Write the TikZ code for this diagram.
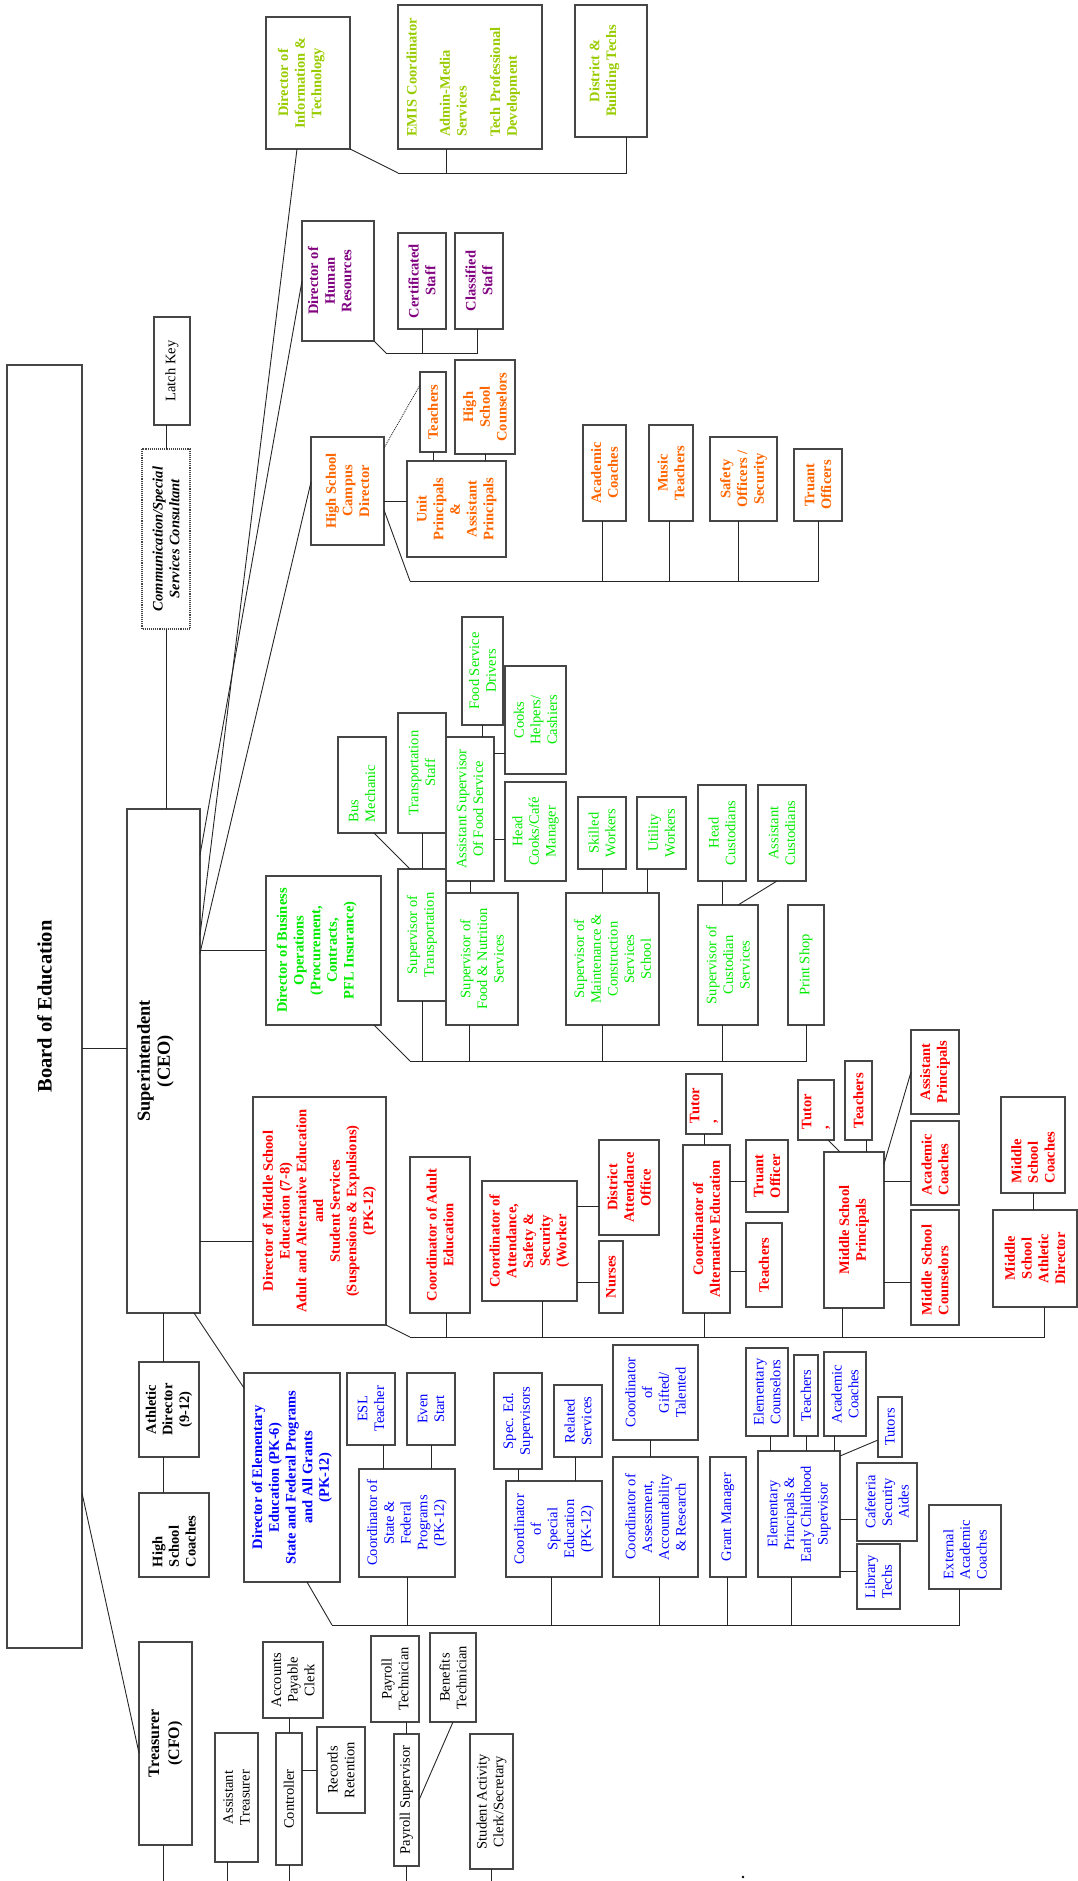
\documentclass[tikz,border=0pt]{standalone}
\usepackage{fontspec}
\setmainfont{Liberation Serif}
\usepackage{tikz}
\usetikzlibrary{calc,positioning}
\definecolor{techlime}{RGB}{153,204,0}
\definecolor{hrpurple}{RGB}{128,0,128}
\definecolor{hsorange}{RGB}{255,102,0}
\definecolor{opsgreen}{RGB}{0,235,0}
\definecolor{msred}{RGB}{255,0,0}
\definecolor{elemblue}{RGB}{0,0,255}
\definecolor{boxline}{RGB}{70,70,70}

\begin{document}
\begin{tikzpicture}[x=1pt, y=-1pt,
    box/.style={draw=boxline, line width=1.1pt, rotate=90, align=center,
        inner sep=0pt, outer sep=0pt, font=\fontsize{14.5}{16.7}\selectfont},
    wh/.style 2 args={minimum height=#1pt, minimum width=#2pt},
    bold/.style={font=\fontsize{14.5}{16.7}\selectfont\bfseries},
    lefttext/.style={align=left, text width=#1pt},
    techtext/.style={bold, text=techlime},
    hrtext/.style={bold, text=hrpurple},
    hstext/.style={bold, text=hsorange},
    opstext/.style={text=opsgreen},
    mstext/.style={bold, text=msred},
    elemtext/.style={text=elemblue},
    link/.style={draw=black!85, line width=0.9pt}
]
    \useasboundingbox (0,0) rectangle (1078,1881);

    % Board, superintendent, treasurer
    \node[box, wh={75}{1283}, font=\fontsize{20.5}{24}\selectfont\bfseries] (boe) at (44.5,1006.5) {Board of Education};
    \node[box, wh={73}{504}, font=\fontsize{18.4}{20}\selectfont\bfseries] (sup) at (163.5,1061) {Superintendent\\(CEO)\\~};
    \node[box, wh={53}{203}, font=\fontsize{16}{20}\selectfont\bfseries] (tre) at (165.5,1743.5) {Treasurer\\(CFO)};
    \node[box, wh={36}{108}] (latch) at (172,371) {Latch Key};
    \node[box, wh={48}{180}, densely dotted, font=\fontsize{14.5}{16.7}\selectfont\bfseries\itshape] (cons) at (166,539) {Communication/Special\\Services Consultant};
    \node[box, bold, wh={60}{95}] (ad) at (169,1409.5) {Athletic\\Director\\(9-12)};
    \node[box, bold, wh={70}{84}, lefttext=64] (hsc) at (174,1535) {High\\School\\Coaches};

    % Information technology
    \node[box, techtext, wh={84}{132}] (dit) at (308,83) {Director of\\Information \&\\Technology\\~};
    \node[box, techtext, wh={144}{144}, lefttext=120] (emis) at (470,77) {EMIS Coordinator\\~\\Admin-Media\\Services\\~\\Tech Professional\\Development\\~};
    \node[box, techtext, wh={72}{132}] (dbt) at (611,71) {District \&\\Building Techs\\~};

    % Human resources
    \node[box, hrtext, wh={72}{120}] (dhr) at (338,281) {Director of\\Human\\Resources\\~};
    \node[box, hrtext, wh={48}{96}] (cert) at (422,281) {Certificated\\Staff};
    \node[box, hrtext, wh={48}{96}] (clas) at (479,281) {Classified\\Staff};

    % High school campus
    \node[box, hstext, wh={73}{108}] (hscd) at (347.5,491) {High School\\Campus\\Director};
    \node[box, hstext, wh={26}{80}] (hst) at (433,412) {Teachers};
    \node[box, hstext, wh={60}{94}] (hsco) at (485,407) {High\\School\\Counselors};
    \node[box, hstext, wh={99}{96}] (unit) at (456.5,509) {Unit\\Principals\\\&\\Assistant\\Principals};
    \node[box, hstext, wh={43}{96}] (hsac) at (604.5,473) {Academic\\Coaches};
    \node[box, hstext, wh={44}{96}] (music) at (671,473) {Music\\Teachers};
    \node[box, hstext, wh={67}{84}] (safe) at (743.5,479) {Safety\\Officers /\\Security};
    \node[box, hstext, wh={48}{72}] (truo) at (818,485) {Truant\\Officers};

    % Business operations
    \node[box, opstext, bold, wh={115}{149}] (dbo) at (323.5,950.5) {Director of Business\\Operations\\(Procurement,\\Contracts,\\PFL Insurance)\\~};
    \node[box, opstext, wh={48}{96}, lefttext=74] (busm) at (362,785) {Bus\\Mechanic};
    \node[box, opstext, wh={48}{120}] (tstaff) at (422,773) {Transportation\\Staff};
    \node[box, opstext, wh={48}{144}] (asfs) at (470,809) {Assistant Supervisor\\Of Food Service};
    \node[box, opstext, wh={41}{108}] (fsd) at (482.5,671) {Food Service\\Drivers};
    \node[box, opstext, wh={61}{108}] (chc) at (535.5,720) {Cooks\\Helpers/\\Cashiers};
    \node[box, opstext, wh={61}{99}] (hcc) at (535.5,831.5) {Head\\Cooks/Café\\Manager};
    \node[box, opstext, wh={48}{72}] (skw) at (602,833) {Skilled\\Workers};
    \node[box, opstext, wh={49}{72}] (utw) at (661.5,833) {Utility\\Workers};
    \node[box, opstext, wh={48}{96}] (hcus) at (722,833) {Head\\Custodians};
    \node[box, opstext, wh={48}{96}] (acus) at (782,833) {Assistant\\Custodians};
    \node[box, opstext, wh={48}{132}] (stra) at (422,935) {Supervisor of\\Transportation};
    \node[box, opstext, wh={72}{132}] (sfns) at (482,959) {Supervisor of\\Food \& Nutrition\\Services};
    \node[box, opstext, wh={93}{132}] (smcs) at (612.5,959) {Supervisor of\\Maintenance \&\\Construction\\Services\\School};
    \node[box, opstext, wh={60}{120}] (scs) at (728,965) {Supervisor of\\Custodian\\Services};
    \node[box, opstext, wh={36}{120}] (print) at (806,965) {Print Shop};

    % Middle school and student services
    \node[box, mstext, wh={133}{228}] (dms) at (319.5,1211) {Director of Middle School\\Education (7-8)\\Adult and Alternative Education\\and\\Student Services\\(Suspensions \& Expulsions)\\(PK-12)};
    \node[box, mstext, wh={60}{156}] (cae) at (440,1235) {Coordinator of Adult\\Education};
    \node[box, mstext, wh={95}{120}] (cass) at (529.5,1241) {Coordinator of\\Attendance,\\Safety \&\\Security\\(Worker};
    \node[box, mstext, wh={60}{95}] (dao) at (629,1187.5) {District\\Attendance\\Office};
    \node[box, mstext, wh={24}{72}] (nurse) at (611,1277) {Nurses};
    \node[box, mstext, wh={47}{168}] (calt) at (706.5,1229) {Coordinator of\\Alternative Education};
    \node[box, mstext, wh={36}{60}, lefttext=38] (tut1) at (704,1104) {Tutor\\,};
    \node[box, mstext, wh={42}{72}] (trof) at (767,1176) {Truant\\Officer};
    \node[box, mstext, wh={36}{84}] (tch1) at (764,1265) {Teachers};
    \node[box, mstext, wh={60}{156}] (msp) at (854,1230) {Middle School\\Principals};
    \node[box, mstext, wh={36}{60}, lefttext=38] (tut2) at (816,1110) {Tutor\\,};
    \node[box, mstext, wh={27}{79}] (tch2) at (858.5,1100.5) {Teachers};
    \node[box, mstext, wh={48}{84}] (msap) at (935,1072) {Assistant\\Principals};
    \node[box, mstext, wh={48}{84}, lefttext=64] (msac) at (935,1163) {Academic\\Coaches};
    \node[box, mstext, wh={48}{115}, lefttext=95] (mscn) at (935,1267.5) {Middle School\\Counselors};
    \node[box, mstext, wh={64}{96}, lefttext=76] (mscc) at (1033,1145) {Middle\\School\\Coaches};
    \node[box, mstext, wh={84}{97}] (msad) at (1035,1258.5) {Middle\\School\\Athletic\\Director};

    % Elementary, state and federal programs
    \node[box, elemtext, bold, wh={96}{209}] (dee) at (292,1477.5) {Director of Elementary\\Education (PK-6)\\State and Federal Programs\\and All Grants\\(PK-12)};
    \node[box, elemtext, wh={48}{72}] (esl) at (371,1409) {ESL\\Teacher};
    \node[box, elemtext, wh={48}{72}] (even) at (431,1409) {Even\\Start};
    \node[box, elemtext, wh={96}{108}] (csfp) at (407,1523) {Coordinator of\\State \&\\Federal\\Programs\\(PK-12)};
    \node[box, elemtext, wh={48}{96}] (sped) at (518,1421) {Spec. Ed.\\Supervisors};
    \node[box, elemtext, wh={48}{72}] (rels) at (578,1421) {Related\\Services};
    \node[box, elemtext, wh={96}{96}] (cse) at (554,1529) {Coordinator\\of\\Special\\Education\\(PK-12)};
    \node[box, elemtext, wh={85}{95}] (cgt) at (655.5,1392.5) {Coordinator\\of\\Gifted/\\Talented};
    \node[box, elemtext, wh={85}{120}] (caar) at (655.5,1517) {Coordinator of\\Assessment,\\Accountability\\\& Research};
    \node[box, elemtext, wh={36}{120}] (grant) at (728,1517) {Grant Manager};
    \node[box, elemtext, wh={82}{126}] (epecs) at (799,1514) {Elementary\\Principals \&\\Early Childhood\\Supervisor};
    \node[box, elemtext, wh={42}{88}] (ecn) at (767,1392) {Elementary\\Counselors};
    \node[box, elemtext, wh={24}{81}] (etch) at (806,1395.5) {Teachers};
    \node[box, elemtext, wh={42}{84}] (eac) at (845,1394) {Academic\\Coaches};
    \node[box, elemtext, wh={24}{60}] (tuts) at (890,1427) {Tutors};
    \node[box, elemtext, wh={60}{78}] (csa) at (887,1502) {Cafeteria\\Security\\Aides};
    \node[box, elemtext, wh={43}{65}, lefttext=44] (lib) at (878.5,1576.5) {Library\\Techs};
    \node[box, elemtext, wh={72}{84}, lefttext=64] (eext) at (965,1547) {External\\Academic\\Coaches};

    % Finance office
    \node[box, wh={60}{76}] (apc) at (293,1680) {Accounts\\Payable\\Clerk};
    \node[box, wh={43}{129}] (atre) at (236.5,1797.5) {Assistant\\Treasurer};
    \node[box, wh={26}{132}] (ctrl) at (289,1799) {Controller};
    \node[box, wh={48}{86}] (rr) at (341,1770) {Records\\Retention};
    \node[box, wh={48}{86}] (prt) at (395,1679) {Payroll\\Technician};
    \node[box, wh={46}{89}] (bent) at (453,1677.5) {Benefits\\Technician};
    \node[box, wh={25}{132}] (prs) at (406.5,1800) {Payroll Supervisor};
    \node[box, wh={43}{135}] (sacs) at (491.5,1801.5) {Student Activity\\Clerk/Secretary};

    % Stray mark at the foot
    \fill (743,1877) circle (1.4);

    % Board links
    \draw[link] ([yshift=13pt]sup.north) -- ([yshift=13pt]sup.north -| boe.south);
    \draw[link] ([yshift=-486.5pt]boe.south) -- ([yshift=-9.5pt]tre.north);

    % Superintendent links
    \draw[link] (cons.east) -- (cons.east |- latch.west);
    \draw[link] (cons.west) -- (cons.west |- sup.east);
    \draw[link] (sup.west) -- (sup.west |- ad.east);
    \draw[link] (sup.west |- ad.west) -- (sup.west |- hsc.east);
    \draw[link] ([xshift=-6pt]sup.south west) -- ([yshift=-15pt]dee.north east);
    \draw[link] ([yshift=-30pt]dms.north) -- ([yshift=-30pt]dms.north -| sup.south);
    \draw[link] (dbo.north) -- (dbo.north -| sup.south);
    \draw[link] ([yshift=126pt]sup.south) -- ([xshift=-11pt]dit.west);
    \draw[link] ([yshift=206pt]sup.south) -- (dhr.north);
    \draw[link] ([yshift=108pt]sup.south) -- ([yshift=9pt]hscd.north);

    % Information technology
    \coordinate (itbar) at (398,173);
    \draw[link] (dit.south west) -- (itbar);
    \draw[link] ([xshift=-24pt]emis.west) |- (itbar);
    \draw[link] ([xshift=15pt]dbt.west) |- (itbar);

    % Human resources
    \coordinate (hrbar) at (386,353);
    \draw[link] (dhr.south west) -- (hrbar);
    \foreach \nd/\dx in {cert/0pt, clas/-2pt}
        \draw[link] ([xshift=\dx]\nd.west) |- (hrbar);

    % High school campus
    \draw[link] (hst.west) -- (hst.west |- unit.east);
    \draw[link] (hsco.west) -- (hsco.west |- unit.east);
    \draw[link] ([yshift=8pt]unit.north) -- ([yshift=8pt]unit.north -| hscd.south);
    \draw[link, densely dotted] ([yshift=-11pt]hscd.south east) -- ([yshift=27pt]hst.north);
    \coordinate (hsbar) at (410,581);
    \draw[link] ([yshift=-19pt]hscd.south) -- (hsbar);
    \foreach \nd/\dx in {hsac/-2.5pt, music/-2pt, safe/-5.5pt, truo/0pt}
        \draw[link] ([xshift=\dx]\nd.west) |- (hsbar);

    % Business operations
    \draw[link] ([xshift=12pt]busm.west) -- ([xshift=-12pt]stra.east);
    \draw[link] (tstaff.west) -- (stra.east);
    \draw[link] (fsd.west) -- (fsd.west |- asfs.east);
    \draw[link] ([yshift=-33pt]chc.north) -- ([yshift=-33pt]chc.north -| asfs.south);
    \draw[link] ([yshift=-7.5pt]hcc.north) -- ([yshift=-7.5pt]hcc.north -| asfs.south);
    \draw[link] (asfs.west) -- (asfs.west |- sfns.east);
    \draw[link] (skw.west) -- (skw.west |- smcs.east);
    \draw[link] ([xshift=-14.5pt]utw.west) -- ([xshift=-14.5pt]utw.west |- smcs.east);
    \draw[link] (hcus.west) -- (hcus.west |- scs.east);
    \draw[link] ([xshift=-5pt]acus.west) -- ([xshift=10pt]scs.east);
    \coordinate (opsbar) at (410,1061);
    \draw[link] ([xshift=-7pt]dbo.south west) -- (opsbar);
    \foreach \nd/\dx in {stra/0pt, sfns/-13pt, smcs/-10.5pt, scs/-6pt, print/0pt}
        \draw[link] ([xshift=\dx]\nd.west) |- (opsbar);

    % Middle school and student services
    \coordinate (msbar) at (410,1337);
    \draw[link] (dms.south west) -- (msbar);
    \foreach \nd/\dx in {cae/6pt, cass/12.5pt, calt/-2.5pt, msp/-12pt, msad/9pt}
        \draw[link] ([xshift=\dx]\nd.west) |- (msbar);
    \draw[link] ([yshift=-18.5pt]dao.north) -- ([yshift=-18.5pt]dao.north -| cass.south);
    \draw[link] ([yshift=-5pt]nurse.north) -- ([yshift=-5pt]nurse.north -| cass.south);
    \draw[link] (tut1.west) -- (tut1.west |- calt.east);
    \draw[link] ([yshift=-5pt]trof.north) -- ([yshift=-5pt]trof.north -| calt.south);
    \draw[link] ([yshift=-6pt]tch1.north) -- ([yshift=-6pt]tch1.north -| calt.south);
    \draw[link] ([xshift=12pt]tut2.west) -- ([xshift=-14pt]msp.east);
    \draw[link] ([xshift=7.5pt]tch2.west) -- ([xshift=7.5pt]tch2.west |- msp.east);
    \draw[link] ([yshift=-12pt]msp.south east) -- (msap.north);
    \draw[link] ([yshift=-18pt]msac.north) -- ([yshift=-18pt]msac.north -| msp.south);
    \draw[link] ([yshift=-14.5pt]mscn.north) -- ([yshift=-14.5pt]mscn.north -| msp.south);
    \draw[link] (mscc.west) -- (mscc.west |- msad.east);

    % Elementary, state and federal programs
    \coordinate (elbar) at (332,1625);
    \draw[link] ([xshift=-33pt]dee.south west) -- (elbar);
    \foreach \nd/\dx in {csfp/0pt, cse/-3pt, caar/3.5pt, grant/-1pt, epecs/-8pt, eext/-6pt}
        \draw[link] ([xshift=\dx]\nd.west) |- (elbar);
    \draw[link] ([xshift=12pt]esl.west) -- ([xshift=12pt]esl.west |- csfp.east);
    \draw[link] (even.west) -- (even.west |- csfp.east);
    \draw[link] (sped.west) -- (sped.west |- cse.east);
    \draw[link] ([xshift=-3pt]rels.west) -- ([xshift=-3pt]rels.west |- cse.east);
    \draw[link] ([xshift=-5.5pt]cgt.west) -- ([xshift=-5.5pt]cgt.west |- caar.east);
    \foreach \nd/\dx in {ecn/3pt, etch/0pt, eac/-11pt}
        \draw[link] ([xshift=\dx]\nd.west) -- ([xshift=\dx]\nd.west |- epecs.east);
    \draw[link] ([yshift=-5pt]epecs.south east) -- ([yshift=-13pt]tuts.north);
    \draw[link] ([yshift=-17pt]csa.north) -- ([yshift=-17pt]csa.north -| epecs.south);
    \draw[link] ([yshift=5.5pt]lib.north) -- ([yshift=5.5pt]lib.north -| epecs.south);

    % Finance office
    \coordinate (pagefoot) at (0,1881);
    \foreach \nd/\dx in {tre/-2.5pt, atre/-9.5pt, ctrl/0pt, prs/0pt, sacs/0pt}
        \draw[link] ([xshift=\dx]\nd.west) -- ([xshift=\dx]\nd.west |- pagefoot);
    \draw[link] (ctrl.east) -- (ctrl.east |- apc.west);
    \draw[link] (rr.north) -- (rr.north -| ctrl.south);
    \draw[link] (prs.east) -- (prs.east |- prt.west);
    \draw[link] (bent.west) -- (prs.south);
\end{tikzpicture}
\end{document}
